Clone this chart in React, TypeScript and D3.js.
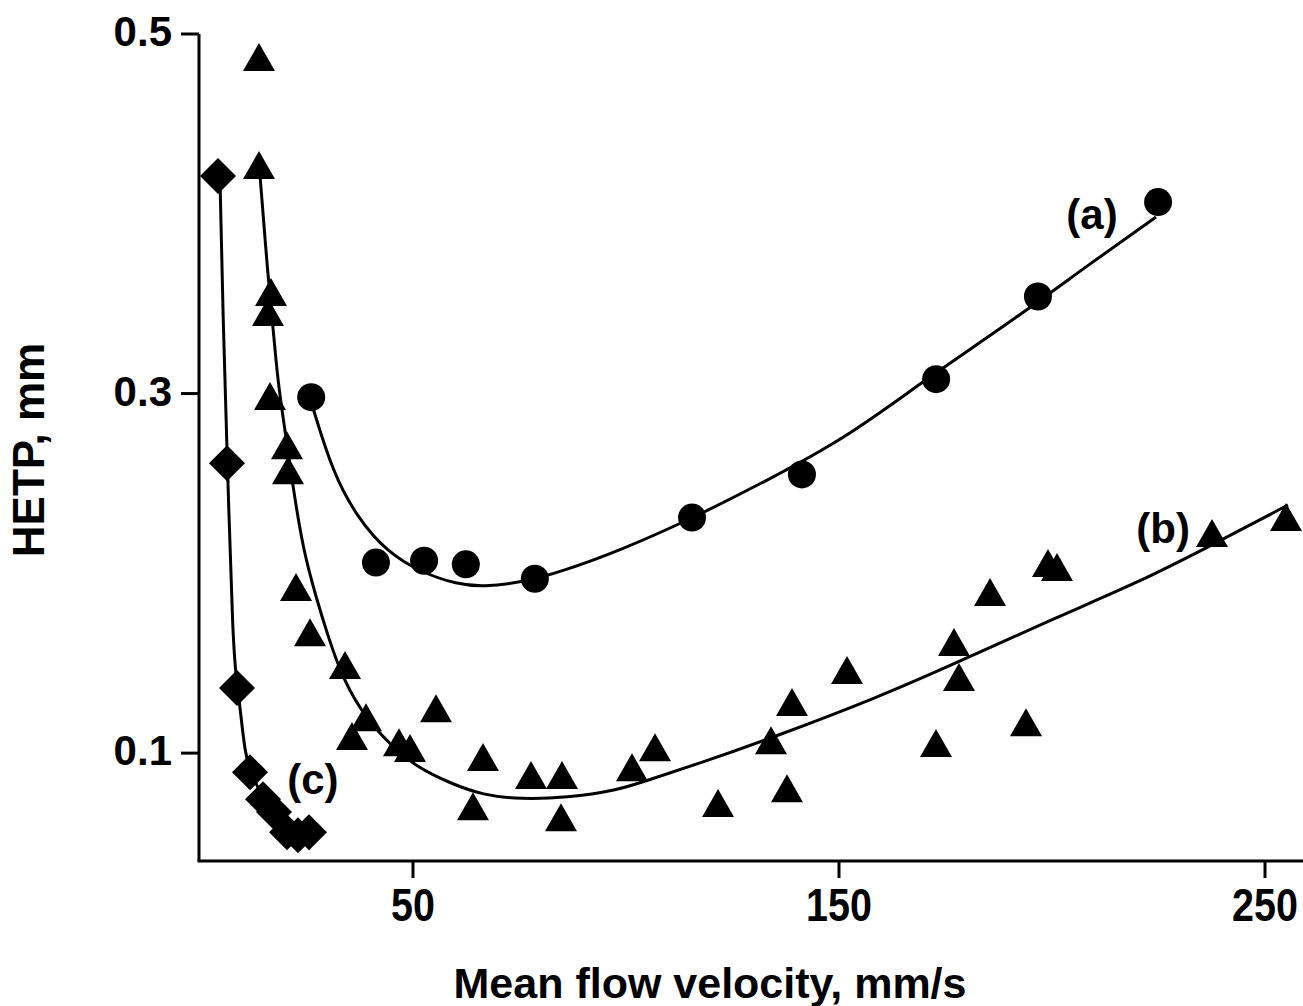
import React from "react";
import * as d3 from "d3";

// ---- data ----
// series (a): circles
const seriesAx = [26.1, 41.3, 52.6, 62.4, 78.6, 115.5, 141.3, 172.8, 196.7, 224.9];
const seriesAy = [0.298, 0.206, 0.207, 0.205, 0.197, 0.231, 0.255, 0.308, 0.354, 0.4065];
// series (b): triangles
const seriesBx = [13.85, 13.85, 16.67, 15.96, 16.43, 20.42, 20.66, 22.54, 25.82, 34.04, 38.97, 35.68, 46.71, 49.3, 55.4, 64.08, 66.43, 77.7, 84.98, 84.74, 101.41, 106.81, 121.6, 134.04, 137.79, 138.97, 151.88, 172.77, 176.99, 178.17, 185.45, 193.9, 199.06, 201.17, 237.56, 254.93];
const seriesBy = [0.4872, 0.4271, 0.3565, 0.3453, 0.2986, 0.2713, 0.2574, 0.1924, 0.1673, 0.149, 0.12, 0.1095, 0.1061, 0.1028, 0.125, 0.0705, 0.0978, 0.0878, 0.0878, 0.0644, 0.0922, 0.1033, 0.0722, 0.1072, 0.0805, 0.1284, 0.1462, 0.1056, 0.1618, 0.1423, 0.1896, 0.1172, 0.2057, 0.2035, 0.2224, 0.2313];
// series (c): diamonds
const seriesCx = [4.23, 6.34, 8.69, 11.74, 14.79, 17.37, 20.42, 23.0, 25.59];
const seriesCy = [0.421, 0.2613, 0.1362, 0.0894, 0.0744, 0.0672, 0.056, 0.0543, 0.056];

// fitted curves
const curveAx = [26.53, 31.22, 36.85, 43.9, 52.35, 60.33, 66.43, 75.82, 84.51, 98.83, 116.2, 132.39, 151.64, 170.66, 189.91, 209.15, 224.41];
const curveAy = [0.2919, 0.2558, 0.2313, 0.2118, 0.2001, 0.194, 0.1924, 0.1951, 0.2007, 0.2129, 0.2313, 0.2508, 0.2752, 0.3085, 0.3392, 0.3726, 0.3982];
const curveBx = [14.08, 15.96, 17.14, 18.31, 19.95, 21.6, 24.18, 27.46, 29.81, 33.57, 39.2, 45.31, 50.94, 58.69, 66.43, 75.12, 86.15, 97.89, 104.93, 117.37, 134.04, 159.39, 177.93, 201.17, 219.95, 236.62, 255.4];
const curveBy = [0.4216, 0.3648, 0.337, 0.3058, 0.2797, 0.2519, 0.2129, 0.1851, 0.1668, 0.1406, 0.1184, 0.1033, 0.0922, 0.0833, 0.0766, 0.0744, 0.0752, 0.0792, 0.0848, 0.0944, 0.1083, 0.1312, 0.1506, 0.1757, 0.1946, 0.2146, 0.238];
const curveCx = [4.69, 5.4, 6.34, 7.75, 8.69, 9.39, 10.56, 11.74, 14.55, 17.6, 21.1, 24.6];
const curveCy = [0.42, 0.3426, 0.2686, 0.1573, 0.1389, 0.1256, 0.1, 0.0905, 0.0755, 0.0655, 0.0572, 0.055];

const xTicks = [50, 150, 250];
const yTicks = [0.1, 0.3, 0.5];
const seriesLabels = [
  { text: "(a)", x: 209.4, y: 0.3977 },
  { text: "(b)", x: 226.1, y: 0.223 },
  { text: "(c)", x: 26.5, y: 0.0834 },
];

const W = 1303;
const H = 1006;
const FONT = "'Liberation Sans', Arial, Helvetica, sans-serif";

export default function App() {
  const x = d3.scaleLinear().domain([0, 260]).range([200, 1307.6]);
  const y = d3.scaleLinear().domain([0.04, 0.5]).range([861, 34]);

  const line = d3
    .line<[number, number]>()
    .x((d) => x(d[0]))
    .y((d) => y(d[1]))
    .curve(d3.curveBasis);

  const zip = (a: number[], b: number[]) => a.map((v, i) => [v, b[i]] as [number, number]);

  const tri = (cx: number, cy: number) => {
    const w = 32, h = 28;
    return `M${cx - w / 2},${cy + h / 2}L${cx},${cy - h / 2}L${cx + w / 2},${cy + h / 2}Z`;
  };
  const dia = (cx: number, cy: number) => {
    const r = 18;
    return `M${cx},${cy - r}L${cx + r},${cy}L${cx},${cy + r}L${cx - r},${cy}Z`;
  };

  const axisY0 = y(0.04);
  const axisX0 = 199;

  return (
    <svg
      width={W}
      height={H}
      style={{ position: "absolute", left: 0, top: 0, background: "#fff" }}
      fontFamily={FONT}
    >
      <rect x={0} y={0} width={W} height={H} fill="#fff" />
      {/* curves */}
      <g fill="none" stroke="#000" strokeWidth={3}>
        <path d={line(zip(curveAx, curveAy)) || ""} />
        <path d={line(zip(curveBx, curveBy)) || ""} />
        <path d={line(zip(curveCx, curveCy)) || ""} />
      </g>
      {/* markers */}
      <g fill="#000">
        {seriesAx.map((v, i) => (
          <circle key={"a" + i} cx={x(v)} cy={y(seriesAy[i])} r={14} />
        ))}
        {seriesBx.map((v, i) => (
          <path key={"b" + i} d={tri(x(v), y(seriesBy[i]))} />
        ))}
        {seriesCx.map((v, i) => (
          <path key={"c" + i} d={dia(x(v), y(seriesCy[i]))} />
        ))}
      </g>
      {/* axes */}
      <g stroke="#000" strokeWidth={3} fill="none">
        <line x1={axisX0} y1={y(0.5)} x2={axisX0} y2={axisY0} />
        <line x1={axisX0 - 1.5} y1={axisY0} x2={W} y2={axisY0} />
        {yTicks.map((t) => (
          <line key={"yt" + t} x1={axisX0 - 18} x2={axisX0} y1={y(t)} y2={y(t)} />
        ))}
        {xTicks.map((t) => (
          <line key={"xt" + t} x1={x(t)} x2={x(t)} y1={axisY0} y2={axisY0 + 17} />
        ))}
      </g>
      <g fontWeight="bold" fontSize={42} fill="#000">
        {yTicks.map((t) => (
          <text key={"yl" + t} x={172} y={y(t) + 12} textAnchor="end">
            {d3.format(".1f")(t)}
          </text>
        ))}
        {xTicks.map((t) => (
          <text
            key={"xl" + t}
            textAnchor="middle"
            transform={`translate(${x(t)},921) scale(0.94,1.1)`}
          >
            {t}
          </text>
        ))}
      </g>
      <g fontWeight="bold" fontSize={42} fill="#000">
        {seriesLabels.map((l) => (
          <text key={l.text} x={x(l.x)} y={y(l.y) + 11} textAnchor="middle">
            {l.text}
          </text>
        ))}
      </g>
      <text x={710} y={998} textAnchor="middle" fontWeight="bold" fontSize={43} fill="#000">
        Mean flow velocity, mm/s
      </text>
      <text
        transform={`translate(44,450) rotate(-90)`}
        textAnchor="middle"
        fontWeight="bold"
        fontSize={44}
        fill="#000"
      >
        HETP, mm
      </text>
    </svg>
  );
}
